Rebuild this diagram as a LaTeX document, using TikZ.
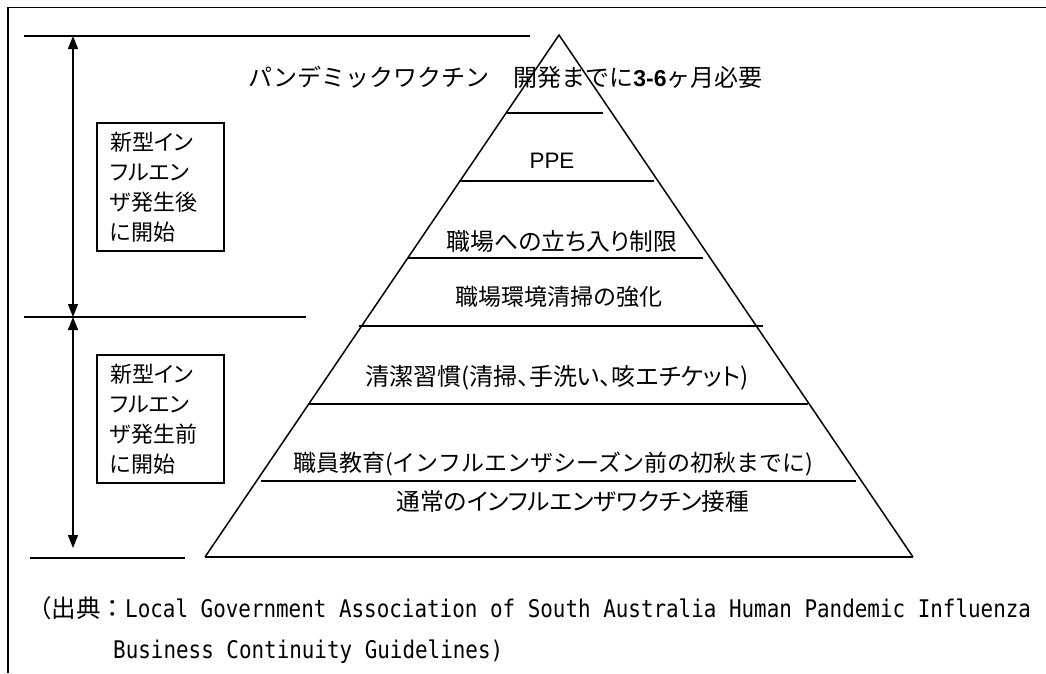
\documentclass[tikz,border=0pt]{standalone}
\usepackage{fontspec}
\setmainfont{Noto Sans CJK JP}
\newfontfamily\jp[RawFeature=+palt]{Noto Sans CJK JP}
\newfontfamily\jpm{Noto Sans CJK JP}
\newfontfamily\arialf{Liberation Sans}
\newfontfamily\monof{DejaVu Sans Mono}
\usetikzlibrary{arrows.meta}
\tikzset{
  thin line/.style={line width=1.3pt},
  lbl/.style={inner sep=0pt, text height=20pt, text depth=3pt, font=\jp\fontsize{23}{28}\selectfont},
  phasebox/.style={draw, line width=1.3pt, minimum width=127pt, minimum height=128pt,
    inner xsep=13pt, inner ysep=0pt, text width=101pt, align=left,
    font=\jp\fontsize{22}{30}\selectfont},
  dimarrow/.style={line width=1.3pt, {Triangle[width=10pt,length=13pt]}-{Triangle[width=10pt,length=13pt]}},
  src/.style={inner sep=0pt, anchor=base west}
}
\begin{document}
\begin{tikzpicture}[x=1pt,y=-1pt]
\useasboundingbox (0,0) rectangle (1046,673);
% frame
\draw[line width=1.5pt] (8,673) -- (8,7.5) -- (1046,7.5);

% pyramid
\coordinate (apex) at (559,35);
\coordinate (bl) at (205,557);
\coordinate (br) at (913,557);
\draw[line width=1.5pt, line join=miter] (bl) -- (apex) -- (br);
\draw[line width=2.2pt] (bl) -- (br);

\coordinate (l1a) at (507,113); \coordinate (l1b) at (603,113);
\coordinate (l2a) at (459,181); \coordinate (l2b) at (654,181);
\coordinate (l3a) at (408,258); \coordinate (l3b) at (703,258);
\coordinate (l4a) at (359,326); \coordinate (l4b) at (763,326);
\coordinate (l5a) at (309,404); \coordinate (l5b) at (808,404);
\coordinate (l6a) at (261,481); \coordinate (l6b) at (856,481);
\foreach \i in {1,...,6} {\draw[thin line] (l\i a) -- (l\i b);}

% left guide lines
\coordinate (g1a) at (24,36);  \coordinate (g1b) at (530,36);
\coordinate (g2a) at (24,317); \coordinate (g2b) at (306,317);
\coordinate (g3a) at (30,558); \coordinate (g3b) at (185,558);
\draw[thin line] (g1a) -- (g1b);
\draw[thin line] (g2a) -- (g2b);
\draw[thin line] (g3a) -- (g3b);

% dimension arrows
\coordinate (a1) at (73,36);
\coordinate (a2) at (73,317);
\coordinate (a3) at (73,548);
\draw[dimarrow] (a1) -- (a2);
\draw[dimarrow] (a2) -- (a3);

% phase boxes
\node[phasebox] (after) at (160.5,187) {新型イン\\フルエン\\ザ発生後\\に開始};
\node[phasebox] (before) at (160.5,419) {新型イン\\フルエン\\ザ発生前\\に開始};

% pyramid labels
\node[lbl, anchor=west, font=\jpm\fontsize{24}{28}\selectfont] (t0) at (248,78) {パンデミックワクチン　開発までに{\arialf\bfseries\fontsize{23}{28}\selectfont 3-6}ヶ月必要};
\node[lbl, font=\arialf\fontsize{22.4}{26}\selectfont] (t1) at (552,160) {PPE};
\node[lbl, font=\jp\fontsize{23.8}{28}\selectfont] (t2) at (562,242) {職場への立ち入り制限};
\node[lbl] (t3) at (559,297) {職場環境清掃の強化};
\node[lbl, font=\jp\fontsize{24}{28}\selectfont] (t4) at (557,377) {清潔習慣(清掃、手洗い、咳エチケット)};
\node[lbl, font=\jpm\fontsize{23}{28}\selectfont] (t5) at (553,463) {職員教育(インフルエンザシーズン前の初秋までに)};
\node[lbl, font=\jp\fontsize{23.7}{28}\selectfont] (t6) at (573,502) {通常のインフルエンザワクチン接種};

% source
\node[src] (s1) at (27,617) {{\jpm\fontsize{24.5}{28}\selectfont （出典：}\scalebox{0.86}[1]{\monof\fontsize{24.3}{28}\selectfont Local Government Association of South Australia Human Pandemic Influenza}};
\node[src] (s2) at (113,658) {\scalebox{0.86}[1]{\monof\fontsize{24.3}{28}\selectfont Business Continuity Guidelines)}};
\end{tikzpicture}
\end{document}
